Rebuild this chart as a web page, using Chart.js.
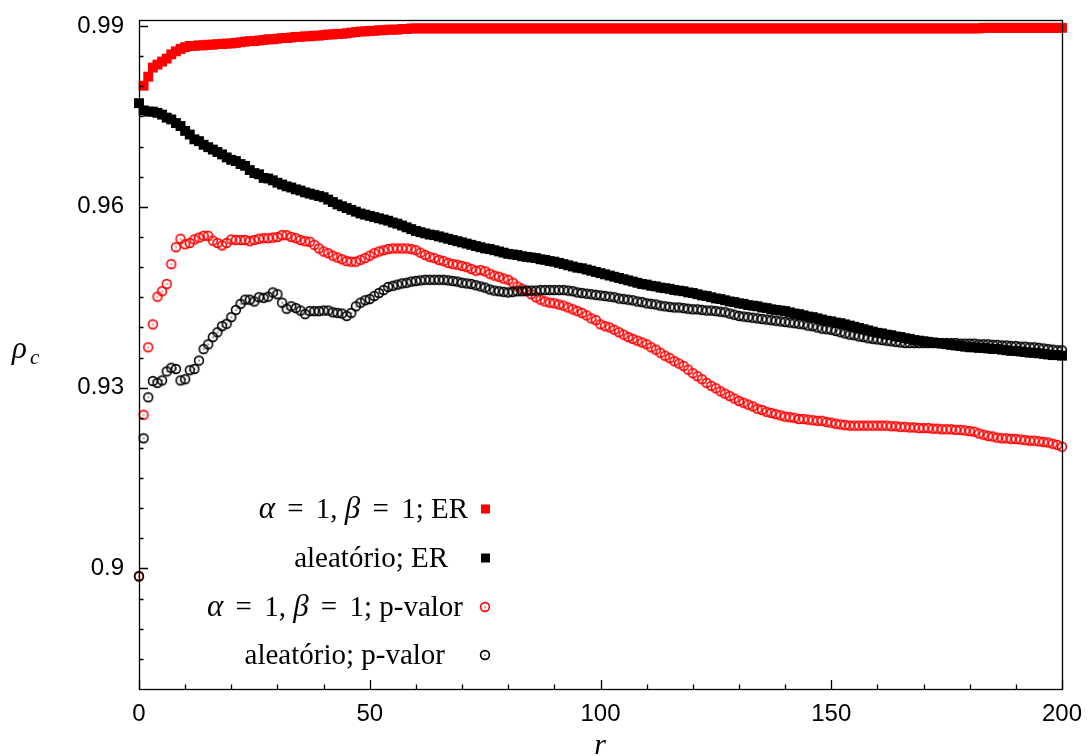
<!DOCTYPE html>
<html>
<head>
<meta charset="utf-8">
<script src="https://cdn.jsdelivr.net/npm/chart.js@4.4.1/dist/chart.umd.min.js"></script>
<style>
  html, body { margin: 0; padding: 0; background: #fff; }
  canvas { display: block; }
</style>
</head>
<body>
<canvas id="graphique" width="1089" height="756"></canvas>
<script>
// r = 0 .. 200
const rValues = Array.from({ length: 201 }, (_, i) => i);

const xTicks = [0, 50, 100, 150, 200];
const yTicks = [0.9, 0.93, 0.96, 0.99];

const legendLabels = [
  'α = 1, β = 1; ER',
  'aleatório; ER',
  'α = 1, β = 1; p-valor',
  'aleatório; p-valor'
];

// alpha=1, beta=1; ER (red squares)
const erAlpha = [
  null, 0.9801, 0.9816, 0.9831, 0.9836, 0.9841, 0.9846, 0.9853, 0.9858, 0.9862,
  0.9865, 0.9867, 0.9867, 0.9868, 0.9868, 0.9869, 0.9869, 0.9870, 0.9870, 0.9871,
  0.9871, 0.9872, 0.9873, 0.9874, 0.9875, 0.9875, 0.9876, 0.9877, 0.9878, 0.9878,
  0.9879, 0.9880, 0.9880, 0.9881, 0.9882, 0.9882, 0.9883, 0.9883, 0.9884, 0.9884,
  0.9885, 0.9886, 0.9886, 0.9887, 0.9887, 0.9888, 0.9889, 0.9890, 0.9891, 0.9891,
  0.9892, 0.9892, 0.9893, 0.9893, 0.9894, 0.9894, 0.9894, 0.9895, 0.9895, 0.9896,
  0.9896, 0.9896, 0.9896, 0.9896, 0.9896, 0.9896, 0.9896, 0.9896, 0.9896, 0.9896,
  0.9896, 0.9896, 0.9896, 0.9896, 0.9896, 0.9896, 0.9896, 0.9896, 0.9896, 0.9896,
  0.9896, 0.9896, 0.9896, 0.9896, 0.9896, 0.9896, 0.9896, 0.9896, 0.9896, 0.9896,
  0.9896, 0.9896, 0.9896, 0.9896, 0.9896, 0.9896, 0.9896, 0.9896, 0.9896, 0.9896,
  0.9896, 0.9896, 0.9896, 0.9896, 0.9896, 0.9896, 0.9896, 0.9896, 0.9896, 0.9896,
  0.9896, 0.9896, 0.9896, 0.9896, 0.9896, 0.9896, 0.9896, 0.9896, 0.9896, 0.9896,
  0.9896, 0.9896, 0.9896, 0.9896, 0.9896, 0.9896, 0.9896, 0.9896, 0.9896, 0.9896,
  0.9896, 0.9896, 0.9896, 0.9896, 0.9896, 0.9896, 0.9896, 0.9896, 0.9896, 0.9896,
  0.9896, 0.9896, 0.9896, 0.9896, 0.9896, 0.9896, 0.9896, 0.9896, 0.9896, 0.9896,
  0.9896, 0.9896, 0.9896, 0.9896, 0.9896, 0.9896, 0.9896, 0.9896, 0.9896, 0.9896,
  0.9896, 0.9896, 0.9896, 0.9896, 0.9896, 0.9896, 0.9896, 0.9896, 0.9896, 0.9896,
  0.9896, 0.9896, 0.9896, 0.9896, 0.9896, 0.9896, 0.9896, 0.9896, 0.9896, 0.9896,
  0.9896, 0.9896, 0.9896, 0.9897, 0.9897, 0.9897, 0.9897, 0.9897, 0.9897, 0.9897,
  0.9897, 0.9897, 0.9897, 0.9897, 0.9897, 0.9897, 0.9897, 0.9897, 0.9897, 0.9897,
  0.9897
];

// aleatorio; ER (black squares)
const erRandom = [
  0.9772, 0.9760, 0.9758, 0.9758, 0.9756, 0.9753, 0.9748, 0.9745, 0.9739, 0.9734,
  0.9726, 0.9720, 0.9712, 0.9709, 0.9703, 0.9699, 0.9695, 0.9691, 0.9687, 0.9682,
  0.9678, 0.9676, 0.9671, 0.9668, 0.9661, 0.9656, 0.9654, 0.9648, 0.9647, 0.9644,
  0.9640, 0.9637, 0.9634, 0.9632, 0.9629, 0.9627, 0.9624, 0.9622, 0.9620, 0.9618,
  0.9616, 0.9612, 0.9608, 0.9604, 0.9601, 0.9598, 0.9595, 0.9592, 0.9589, 0.9587,
  0.9585, 0.9583, 0.9581, 0.9579, 0.9577, 0.9574, 0.9572, 0.9569, 0.9566, 0.9563,
  0.9560, 0.9558, 0.9556, 0.9554, 0.9553, 0.9551, 0.9549, 0.9547, 0.9545, 0.9543,
  0.9541, 0.9539, 0.9537, 0.9535, 0.9533, 0.9531, 0.9530, 0.9528, 0.9526, 0.9524,
  0.9522, 0.9521, 0.9520, 0.9518, 0.9517, 0.9516, 0.9515, 0.9513, 0.9512, 0.9510,
  0.9509, 0.9507, 0.9505, 0.9503, 0.9501, 0.9499, 0.9498, 0.9496, 0.9494, 0.9492,
  0.9490, 0.9488, 0.9486, 0.9484, 0.9482, 0.9480, 0.9478, 0.9476, 0.9474, 0.9472,
  0.9471, 0.9469, 0.9468, 0.9466, 0.9465, 0.9464, 0.9462, 0.9461, 0.9460, 0.9458,
  0.9457, 0.9455, 0.9453, 0.9452, 0.9450, 0.9448, 0.9447, 0.9445, 0.9443, 0.9442,
  0.9440, 0.9439, 0.9437, 0.9436, 0.9435, 0.9433, 0.9432, 0.9430, 0.9429, 0.9428,
  0.9427, 0.9425, 0.9423, 0.9422, 0.9420, 0.9418, 0.9417, 0.9415, 0.9413, 0.9411,
  0.9410, 0.9408, 0.9407, 0.9405, 0.9403, 0.9401, 0.9399, 0.9397, 0.9395, 0.9393,
  0.9391, 0.9390, 0.9388, 0.9387, 0.9385, 0.9384, 0.9382, 0.9381, 0.9379, 0.9378,
  0.9377, 0.9376, 0.9375, 0.9374, 0.9373, 0.9372, 0.9371, 0.9370, 0.9369, 0.9368,
  0.9367, 0.9367, 0.9366, 0.9366, 0.9365, 0.9364, 0.9364, 0.9363, 0.9362, 0.9361,
  0.9361, 0.9360, 0.9359, 0.9358, 0.9358, 0.9357, 0.9356, 0.9355, 0.9354, 0.9354,
  0.9353
];

// alpha=1, beta=1; p-valor (red circles)
const pAlpha = [
  0.8987, 0.9255, 0.9367, 0.9405, 0.9451, 0.9460, 0.9472, 0.9505, 0.9533, 0.9547,
  0.9538, 0.9540, 0.9546, 0.9549, 0.9552, 0.9552, 0.9544, 0.9540, 0.9536, 0.9540,
  0.9546, 0.9545, 0.9545, 0.9545, 0.9543, 0.9545, 0.9547, 0.9548, 0.9548, 0.9549,
  0.9550, 0.9553, 0.9553, 0.9550, 0.9548, 0.9545, 0.9543, 0.9542, 0.9537, 0.9531,
  0.9526, 0.9523, 0.9519, 0.9516, 0.9513, 0.9510, 0.9509, 0.9509, 0.9512, 0.9515,
  0.9519, 0.9523, 0.9526, 0.9528, 0.9530, 0.9531, 0.9531, 0.9531, 0.9531, 0.9530,
  0.9528, 0.9524, 0.9520, 0.9517, 0.9515, 0.9512, 0.9510, 0.9507, 0.9505, 0.9504,
  0.9502, 0.9500, 0.9497, 0.9494, 0.9495, 0.9493, 0.9489, 0.9486, 0.9484, 0.9481,
  0.9479, 0.9474, 0.9468, 0.9464, 0.9460, 0.9455, 0.9450, 0.9446, 0.9443, 0.9441,
  0.9440, 0.9438, 0.9436, 0.9433, 0.9430, 0.9427, 0.9424, 0.9420, 0.9415, 0.9412,
  0.9405, 0.9402, 0.9400, 0.9396, 0.9392, 0.9388, 0.9384, 0.9381, 0.9378, 0.9375,
  0.9372, 0.9367, 0.9363, 0.9358, 0.9353, 0.9349, 0.9344, 0.9340, 0.9336, 0.9330,
  0.9324, 0.9319, 0.9314, 0.9308, 0.9303, 0.9299, 0.9294, 0.9290, 0.9286, 0.9282,
  0.9278, 0.9275, 0.9272, 0.9269, 0.9265, 0.9263, 0.9260, 0.9258, 0.9256, 0.9254,
  0.9252, 0.9251, 0.9250, 0.9248, 0.9248, 0.9247, 0.9246, 0.9245, 0.9245, 0.9243,
  0.9242, 0.9240, 0.9239, 0.9238, 0.9237, 0.9237, 0.9237, 0.9237, 0.9237, 0.9237,
  0.9237, 0.9237, 0.9237, 0.9236, 0.9236, 0.9235, 0.9235, 0.9234, 0.9234, 0.9233,
  0.9233, 0.9233, 0.9232, 0.9232, 0.9231, 0.9231, 0.9231, 0.9230, 0.9230, 0.9229,
  0.9228, 0.9227, 0.9224, 0.9222, 0.9220, 0.9219, 0.9217, 0.9216, 0.9216, 0.9215,
  0.9215, 0.9214, 0.9213, 0.9212, 0.9212, 0.9211, 0.9210, 0.9209, 0.9207, 0.9205,
  0.9202
];

// aleatorio; p-valor (black circles)
const pRandom = [
  0.8987, 0.9216, 0.9284, 0.9311, 0.9308, 0.9312, 0.9327, 0.9333, 0.9331, 0.9312,
  0.9314, 0.9329, 0.9331, 0.9345, 0.9364, 0.9372, 0.9384, 0.9392, 0.9402, 0.9406,
  0.9417, 0.9429, 0.9439, 0.9446, 0.9446, 0.9443, 0.9450, 0.9449, 0.9451, 0.9458,
  0.9455, 0.9441, 0.9431, 0.9435, 0.9432, 0.9428, 0.9422, 0.9427, 0.9427, 0.9427,
  0.9428, 0.9428, 0.9425, 0.9424, 0.9423, 0.9419, 0.9424, 0.9435, 0.9441, 0.9445,
  0.9447, 0.9452, 0.9457, 0.9462, 0.9467, 0.9469, 0.9471, 0.9473, 0.9474, 0.9476,
  0.9477, 0.9478, 0.9479, 0.9479, 0.9479, 0.9479, 0.9479, 0.9478, 0.9477, 0.9476,
  0.9474, 0.9473, 0.9472, 0.9470, 0.9468, 0.9466, 0.9463, 0.9461, 0.9460, 0.9459,
  0.9458, 0.9459, 0.9460, 0.9460, 0.9461, 0.9461, 0.9461, 0.9462, 0.9462, 0.9462,
  0.9462, 0.9462, 0.9462, 0.9461, 0.9460, 0.9458, 0.9457, 0.9456, 0.9455, 0.9454,
  0.9453, 0.9452, 0.9451, 0.9450, 0.9448, 0.9447, 0.9446, 0.9445, 0.9443, 0.9442,
  0.9440, 0.9439, 0.9438, 0.9436, 0.9435, 0.9434, 0.9433, 0.9433, 0.9432, 0.9431,
  0.9430, 0.9430, 0.9429, 0.9428, 0.9428, 0.9427, 0.9426, 0.9425, 0.9423, 0.9421,
  0.9419, 0.9418, 0.9417, 0.9416, 0.9415, 0.9414, 0.9413, 0.9412, 0.9411, 0.9410,
  0.9409, 0.9408, 0.9407, 0.9406, 0.9405, 0.9403, 0.9402, 0.9400, 0.9398, 0.9397,
  0.9396, 0.9394, 0.9392, 0.9390, 0.9388, 0.9387, 0.9385, 0.9384, 0.9382, 0.9381,
  0.9380, 0.9379, 0.9378, 0.9377, 0.9376, 0.9375, 0.9374, 0.9374, 0.9374, 0.9374,
  0.9374, 0.9374, 0.9374, 0.9374, 0.9374, 0.9374, 0.9374, 0.9374, 0.9373, 0.9373,
  0.9373, 0.9373, 0.9372, 0.9372, 0.9372, 0.9371, 0.9371, 0.9370, 0.9370, 0.9369,
  0.9369, 0.9368, 0.9368, 0.9367, 0.9367, 0.9366, 0.9365, 0.9364, 0.9363, 0.9362,
  0.9362
];

const RED = '#ff0000';
const BLACK = '#000000';

// open circle with a dot in the middle (gnuplot style)
function ring(color) {
  const c = document.createElement('canvas');
  c.width = 14; c.height = 14;
  const g = c.getContext('2d');
  g.strokeStyle = color;
  g.lineWidth = 1.6;
  g.beginPath();
  g.arc(7, 7, 4.4, 0, Math.PI * 2);
  g.stroke();
  g.fillStyle = color;
  g.fillRect(6.5, 6.5, 1.2, 1.2);
  return c;
}
const redRing = ring(RED);
const blackRing = ring(BLACK);

const SERIF = '"Liberation Serif", "DejaVu Serif", serif';
const SANS = '"Liberation Sans", Arial, sans-serif';

// frame, inward ticks, axis titles and legend
const decor = {
  id: 'decor',
  afterDraw(chart) {
    const c = chart.ctx;
    const a = chart.chartArea;
    const xs = chart.scales.x, ys = chart.scales.y;
    c.save();
    c.strokeStyle = '#000';
    c.lineWidth = 1.3;
    c.strokeRect(Math.round(a.left) + 0.5, Math.round(a.top) + 0.5,
      Math.round(a.right - a.left), Math.round(a.bottom - a.top));

    c.beginPath();
    for (let v = 0; v <= 200; v += 10) {
      const px = Math.round(xs.getPixelForValue(v)) + 0.5;
      const len = v % 50 === 0 ? 9 : 4.5;
      c.moveTo(px, a.bottom); c.lineTo(px, a.bottom - len);
    }
    for (let k = 177; k <= 198; k++) {
      const v = k * 0.005;
      const py = Math.round(ys.getPixelForValue(v)) + 0.5;
      const len = k % 6 === 0 ? 9 : 4.5;
      c.moveTo(a.left, py); c.lineTo(a.left + len, py);
    }
    c.stroke();

    // axis titles
    c.fillStyle = '#000';
    c.textBaseline = 'alphabetic';
    c.textAlign = 'left';
    c.font = 'italic 31px ' + SERIF;
    c.fillText('ρ', 12, 358);
    c.font = 'italic 21px ' + SERIF;
    c.fillText('c', 30, 364);
    c.font = 'italic 30px ' + SERIF;
    c.textAlign = 'center';
    c.fillText('r', 600, 754);

    // legend (math-style spacing around '=')
    const rows = [
      { y: 509, right: 468, style: 'sq', color: RED },
      { y: 558, right: 448, style: 'sq', color: BLACK },
      { y: 607, right: 463, style: 'ring', color: RED },
      { y: 655, right: 445, style: 'ring', color: BLACK }
    ];
    rows.forEach((row, i) => {
      const parts = legendLabels[i].split(/(α|β| = )/).filter(s => s.length);
      const fontOf = p => (p === 'α' || p === 'β') ? 'italic 31px ' + SERIF : '29px ' + SERIF;
      const widthOf = p => { c.font = fontOf(p); return c.measureText(p).width + (p === ' = ' ? 10 : 0); };
      const w = parts.reduce((s, p) => s + widthOf(p), 0);
      let x = row.right - w;
      c.textAlign = 'left';
      parts.forEach(p => {
        const pw = widthOf(p);
        c.font = fontOf(p);
        c.fillText(p, x + (p === ' = ' ? 5 : 0), row.y + 9);
        x += pw;
      });
      if (row.style === 'sq') {
        c.fillStyle = row.color;
        c.fillRect(481, row.y - 4.5, 9, 9);
        c.fillStyle = '#000';
      } else {
        c.drawImage(row.color === RED ? redRing : blackRing, 485 - 7, row.y - 7);
      }
    });
    c.restore();
  }
};

const pointSet = (label, data, style, color, order, radius) => ({
  label: label,
  data: data,
  showLine: false,
  pointStyle: style,
  pointRadius: radius,
  pointHoverRadius: radius,
  pointBackgroundColor: color,
  pointBorderColor: color,
  pointBorderWidth: 0,
  borderColor: color,
  backgroundColor: color,
  clip: false,
  order: order
});

const noPad = s => { s.paddingTop = 0; s.paddingBottom = 0; s.paddingLeft = 0; s.paddingRight = 0; };

const myChart = new Chart(document.getElementById('graphique'), {
  type: 'line',
  data: {
    labels: rValues,
    datasets: [
      pointSet(legendLabels[0], erAlpha, 'rect', RED, 3, 7),
      pointSet(legendLabels[1], erRandom, 'rect', BLACK, 2, 7),
      pointSet(legendLabels[2], pAlpha, redRing, RED, 1, 5),
      pointSet(legendLabels[3], pRandom, blackRing, BLACK, 0, 5)
    ]
  },
  options: {
    responsive: false,
    animation: false,
    devicePixelRatio: 1,
    layout: { padding: { top: 20, right: 27, left: 0, bottom: 0 } },
    plugins: { legend: { display: false }, tooltip: { enabled: false } },
    scales: {
      x: {
        type: 'linear',
        min: 0,
        max: 200,
        afterBuildTicks: s => { s.ticks = xTicks.map(v => ({ value: v })); },
        afterFit: s => { s.height = 67; noPad(s); },
        grid: { display: false, drawTicks: false },
        border: { display: false },
        ticks: {
          color: '#000',
          font: { family: SANS, size: 24 },
          padding: 11,
          maxRotation: 0,
          autoSkip: false,
          callback: v => String(v)
        }
      },
      y: {
        type: 'linear',
        min: 0.88,
        max: 0.991,
        afterBuildTicks: s => { s.ticks = yTicks.map(v => ({ value: v })); },
        afterFit: s => { s.width = 139; noPad(s); },
        grid: { display: false, drawTicks: false },
        border: { display: false },
        ticks: {
          color: '#000',
          font: { family: SANS, size: 24 },
          padding: 15,
          autoSkip: false,
          callback: v => String(+v.toFixed(3))
        }
      }
    }
  },
  plugins: [decor]
});
</script>
</body>
</html>
